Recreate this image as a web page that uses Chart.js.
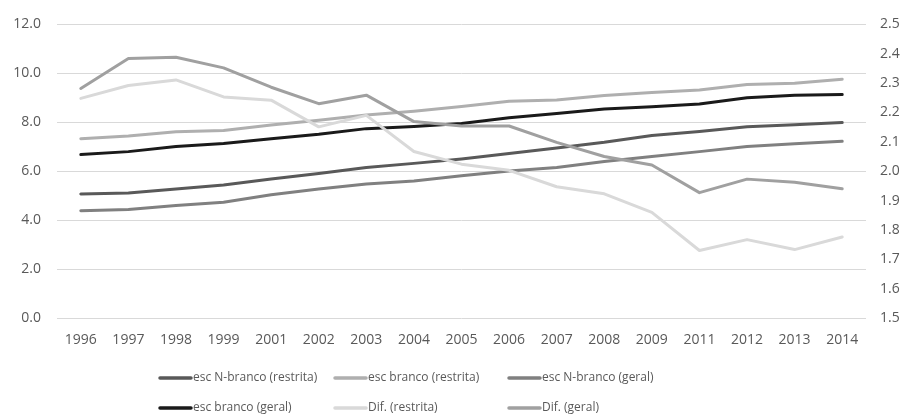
<!DOCTYPE html>
<html>
<head>
<meta charset="utf-8">
<script src="https://cdn.jsdelivr.net/npm/chart.js@4.4.1/dist/chart.umd.min.js"></script>
<style>
  html, body { margin: 0; padding: 0; background: #ffffff; }
  #wrap { width: 904px; height: 419px; position: relative; }
</style>
</head>
<body>
<div id="wrap"><canvas id="chart" width="904" height="419"></canvas></div>
<script>
// Years (2000 and 2010 are not part of the series)
const years = ['1996','1997','1998','1999','2001','2002','2003','2004','2005','2006','2007','2008','2009','2011','2012','2013','2014'];

// Average years of schooling (left axis)
const escNBrancoRestrita = [5.07, 5.11, 5.27, 5.44, 5.68, 5.91, 6.15, 6.32, 6.50, 6.72, 6.95, 7.18, 7.46, 7.62, 7.82, 7.90, 7.99];
const escBrancoRestrita  = [7.33, 7.44, 7.61, 7.66, 7.89, 8.08, 8.30, 8.45, 8.64, 8.86, 8.91, 9.09, 9.22, 9.32, 9.54, 9.59, 9.76];
const escNBrancoGeral    = [4.38, 4.43, 4.60, 4.73, 5.04, 5.27, 5.48, 5.60, 5.81, 6.01, 6.15, 6.40, 6.60, 6.80, 7.01, 7.12, 7.22];
const escBrancoGeral     = [6.68, 6.80, 7.01, 7.13, 7.33, 7.51, 7.74, 7.83, 7.95, 8.18, 8.36, 8.54, 8.63, 8.75, 9.00, 9.10, 9.13];

// Gaps between groups (right axis)
const difRestrita = [2.248, 2.292, 2.311, 2.253, 2.242, 2.151, 2.190, 2.067, 2.024, 2.003, 1.947, 1.923, 1.860, 1.730, 1.767, 1.733, 1.776];
const difGeral    = [2.282, 2.384, 2.388, 2.352, 2.286, 2.230, 2.259, 2.169, 2.154, 2.154, 2.098, 2.050, 2.021, 1.927, 1.973, 1.962, 1.940];

// Axis tick values
const leftTicks  = [0, 2, 4, 6, 8, 10, 12];
const rightTicks = [1.5, 1.6, 1.7, 1.8, 1.9, 2.0, 2.1, 2.2, 2.3, 2.4, 2.5];

const FONT = "'Open Sans', sans-serif";
const TEXT = '#595959';

const series = [
  { label: 'esc N-branco (restrita)', data: escNBrancoRestrita, color: '#595959', axis: 'y'  },
  { label: 'esc branco (restrita)',   data: escBrancoRestrita,  color: '#afafaf', axis: 'y'  },
  { label: 'esc N-branco (geral)',    data: escNBrancoGeral,    color: '#808080', axis: 'y'  },
  { label: 'esc branco (geral)',      data: escBrancoGeral,     color: '#1a1a1a', axis: 'y'  },
  { label: 'Dif. (restrita)',         data: difRestrita,        color: '#d9d9d9', axis: 'y1' },
  { label: 'Dif. (geral)',            data: difGeral,           color: '#a0a0a0', axis: 'y1' }
];

const datasets = series.map((s, i) => ({
  label: s.label,
  data: s.data,
  yAxisID: s.axis,
  borderColor: s.color,
  backgroundColor: s.color,
  borderWidth: 3,
  borderCapStyle: 'round',
  borderJoinStyle: 'round',
  pointRadius: 0,
  pointHoverRadius: 0,
  tension: 0,
  fill: false,
  order: series.length - i
}));

// Legend drawn as a 3-column grid under the plot
const gridLegend = {
  id: 'gridLegend',
  afterDraw(chart) {
    const ctx = chart.ctx;
    const cols = [158, 333, 507];
    const rows = [378, 408];
    ctx.save();
    ctx.font = "12px " + FONT;
    ctx.textBaseline = 'middle';
    ctx.textAlign = 'left';
    chart.data.datasets.forEach((ds, i) => {
      const x = cols[i % 3];
      const y = rows[Math.floor(i / 3)];
      ctx.strokeStyle = ds.borderColor;
      ctx.lineWidth = 3.5;
      ctx.lineCap = 'round';
      ctx.beginPath();
      ctx.moveTo(x + 2, y);
      ctx.lineTo(x + 33, y);
      ctx.stroke();
      ctx.fillStyle = TEXT;
      ctx.fillText(ds.label, x + 35, y);
    });
    ctx.restore();
  }
};

new Chart(document.getElementById('chart'), {
  type: 'line',
  data: { labels: years, datasets },
  plugins: [gridLegend],
  options: {
    responsive: false,
    animation: false,
    layout: { padding: { top: 23, left: 0, right: 0, bottom: 0 } },
    plugins: {
      legend: { display: false },
      tooltip: { enabled: false }
    },
    scales: {
      x: {
        offset: true,
        grid: { display: false, drawTicks: false },
        border: { display: false },
        ticks: { color: TEXT, font: { family: FONT, size: 14 }, padding: 14, maxRotation: 0, autoSkip: false },
        afterFit(scale) { scale.height = 101; }
      },
      y: {
        position: 'left',
        min: 0,
        max: 12,
        afterBuildTicks(scale) { scale.ticks = leftTicks.map(v => ({ value: v })); },
        grid: { color: '#d9d9d9', lineWidth: 1, drawTicks: false },
        border: { display: false },
        ticks: { color: TEXT, font: { family: FONT, size: 14 }, padding: 16, callback: v => Number(v).toFixed(1) },
        afterFit(scale) { scale.width = 57; }
      },
      y1: {
        position: 'right',
        min: 1.5,
        max: 2.5,
        afterBuildTicks(scale) { scale.ticks = rightTicks.map(v => ({ value: v })); },
        grid: { display: false, drawTicks: false },
        border: { display: false },
        ticks: { color: TEXT, font: { family: FONT, size: 14 }, padding: 14, callback: v => Number(v).toFixed(1) },
        afterFit(scale) { scale.width = 38; }
      }
    }
  }
});
</script>
</body>
</html>
